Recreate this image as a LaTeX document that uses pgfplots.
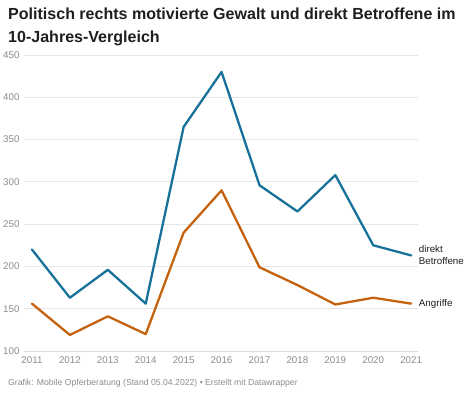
\documentclass[border=0pt]{standalone}
\usepackage{fontspec}
\setmainfont{Liberation Sans}
\usepackage{pgfplots}
\pgfplotsset{compat=1.18}
\definecolor{dwblue}{HTML}{18719A}
\definecolor{dworange}{HTML}{C4620E}
\definecolor{gridgray}{HTML}{E6E6E6}
\definecolor{tickgray}{HTML}{8C8C8C}
\definecolor{foot}{HTML}{8C8C8C}
\definecolor{titlec}{HTML}{1E1E1E}
\begin{document}
\begin{tikzpicture}[x=1bp,y=1bp]
\path[use as bounding box] (0,0) rectangle (474,396);
\node[anchor=north west, align=left, font=\bfseries\fontsize{16.1}{23}\selectfont, text=titlec, inner sep=0pt] at (8,388) {Politisch rechts motivierte Gewalt und direkt Betroffene im\\10-Jahres-Vergleich};
\node[anchor=base west, font=\fontsize{8.7}{10}\selectfont, text=foot, inner sep=0pt] at (8,11) {Grafik: Mobile Opferberatung (Stand 05.04.2022) \textbullet\ Erstellt mit Datawrapper};
\begin{axis}[
  at={(24bp,45bp)}, anchor=south west,
  scale only axis, width=394bp, height=296bp,
  xmin=2010.79, xmax=2021.18,
  ymin=100, ymax=450,
  xtick={2011,...,2021},
  ytick={100,150,...,450},
  /pgf/number format/assume math mode=true,
  xticklabel={\pgfmathprintnumber[1000 sep={}]{\tick}},
  ymajorgrids,
  grid style={gridgray, line width=0.8pt},
  axis line style={draw=none},
  major tick length=0pt,
  tick style={draw=none},
  ticklabel style={font=\fontsize{9.8}{11}\selectfont, text=tickgray},
  yticklabel style={anchor=east, xshift=-1bp},
  xticklabel style={yshift=-2bp},
  clip=false,
]
\draw[gridgray!70!black!40, line width=0.8pt] (axis cs:2010.79,100) -- (axis cs:2021.18,100);
\addplot[dwblue, line width=2.3pt, line join=round, line cap=round] coordinates {
(2011,220) (2012,163) (2013,196) (2014,156) (2015,365) (2016,430) (2017,296) (2018,265) (2019,308) (2020,225) (2021,213)};
\addplot[dworange, line width=2.3pt, line join=round, line cap=round] coordinates {
(2011,156) (2012,119) (2013,141) (2014,120) (2015,240) (2016,290) (2017,199) (2018,178) (2019,155) (2020,163) (2021,156)};
\node[anchor=west, align=left, font=\fontsize{9.8}{12}\selectfont, text=titlec, inner sep=0pt] at (axis cs:2021.2,213) {direkt\\Betroffene};
\node[anchor=west, font=\fontsize{9.8}{12}\selectfont, text=titlec, inner sep=0pt] at (axis cs:2021.2,156) {Angriffe};
\end{axis}
\end{tikzpicture}
\end{document}
